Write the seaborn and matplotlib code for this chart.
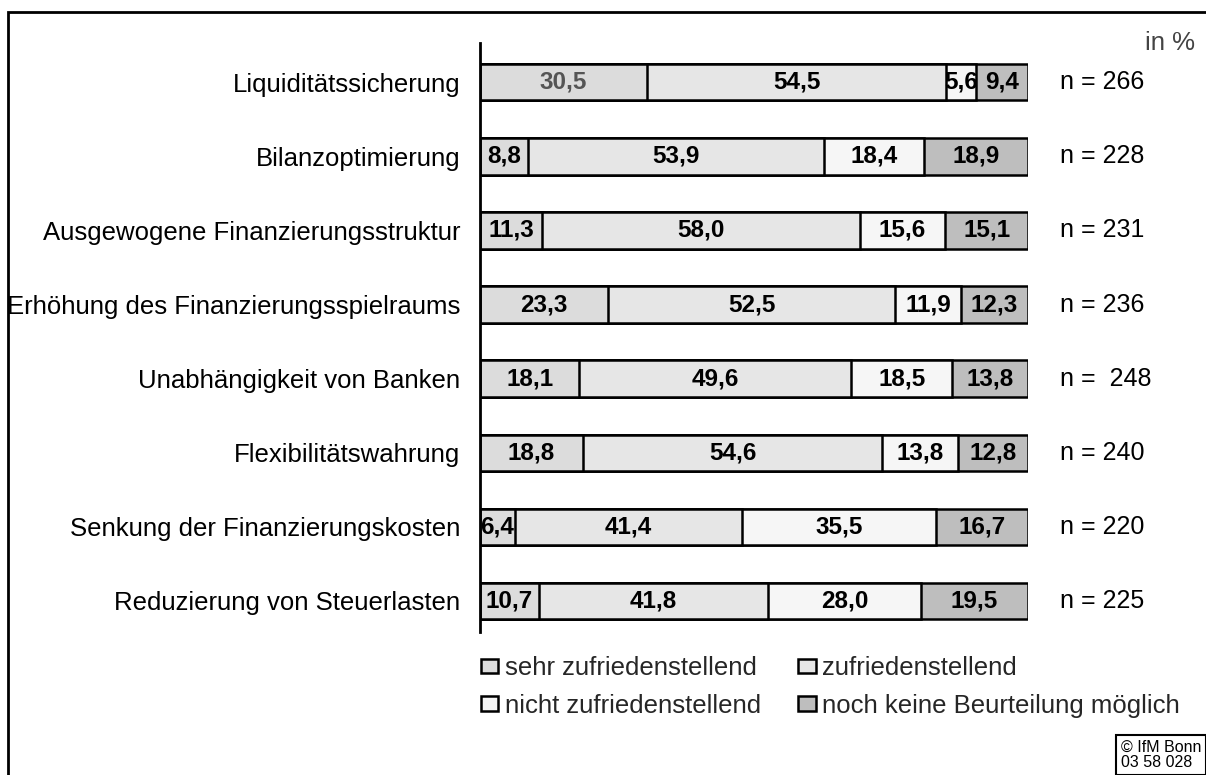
import matplotlib
matplotlib.use("Agg")
import matplotlib.pyplot as plt
from matplotlib.patches import Patch, Rectangle
import seaborn as sns
import pandas as pd
import numpy as np

categories = ["Liquiditätssicherung", "Bilanzoptimierung", "Ausgewogene Finanzierungsstruktur",
              "Erhöhung des Finanzierungsspielraums", "Unabhängigkeit von Banken",
              "Flexibilitätswahrung", "Senkung der Finanzierungskosten", "Reduzierung von Steuerlasten"]
sehr = [30.5, 8.8, 11.3, 23.3, 18.1, 18.8, 6.4, 10.7]
zufrieden = [54.5, 53.9, 58.0, 52.5, 49.6, 54.6, 41.4, 41.8]
nicht = [5.6, 18.4, 15.6, 11.9, 18.5, 13.8, 35.5, 28.0]
keine = [9.4, 18.9, 15.1, 12.3, 13.8, 12.8, 16.7, 19.5]
n_labels = ["n = 266", "n = 228", "n = 231", "n = 236", "n =  248", "n = 240", "n = 220", "n = 225"]
series_names = ["sehr zufriedenstellend", "zufriedenstellend", "nicht zufriedenstellend",
                "noch keine Beurteilung möglich"]
colors = ["#dcdcdc", "#e6e6e6", "#f6f6f6", "#bebebe"]

sns.set_theme(style="white")
plt.rcParams['font.family'] = ['Liberation Sans', 'DejaVu Sans']

fig = plt.figure(figsize=(12.06, 7.75), dpi=100)
W, H = 1206, 775
ax = fig.add_axes([480 / W, 1 - 632 / H, (1028 - 480) / W, (632 - 43) / H])

series = [sehr, zufrieden, nicht, keine]
cum = np.cumsum(np.array(series), axis=0)
df = pd.DataFrame({"cat": categories})
for i in range(3, -1, -1):
    df["v"] = cum[i]
    sns.barplot(data=df, x="v", y="cat", orient="h", color=colors[i], saturation=1,
                width=0.49, edgecolor="black", linewidth=1.8, ax=ax)

ax.set_xlim(0, 100)
ax.set_ylim(7.42, -0.53)
ax.set_xlabel("")
ax.set_ylabel("")
ax.set_xticks([])
for s in ["top", "right", "bottom"]:
    ax.spines[s].set_visible(False)
ax.spines["left"].set_linewidth(2)
ax.spines["left"].set_color("black")
ax.tick_params(axis="y", length=0, pad=14, labelsize=18.5, labelcolor="black")

starts = np.vstack([np.zeros(len(categories)), cum[:-1]])
for i, vals in enumerate(series):
    for j, v in enumerate(vals):
        ax.text(starts[i][j] + v / 2, j, f"{v:.1f}".replace(".", ","), ha="center", va="center",
                fontsize=17.5, fontweight="bold",
                color="#555555" if (i == 0 and j == 0) else "black")

ytr = ax.get_yaxis_transform()
for j, lab in enumerate(n_labels):
    ax.text(1.058, j, lab, transform=ytr, ha="left", va="center", fontsize=18, color="black")

fig.text(1195 / W, 1 - 43 / H, "in %", ha="right", va="center", fontsize=18.5, color="#444444")

handles = [Patch(facecolor=colors[k], edgecolor="black", linewidth=1.8, label=series_names[k])
           for k in [0, 2, 1, 3]]
fig.legend(handles=handles, loc="upper left", bbox_to_anchor=(481 / W, 1 - 656 / H), ncol=2,
           frameon=False, fontsize=18.5, handlelength=0.68, handleheight=0.5, handletextpad=0.25,
           columnspacing=1.45, labelspacing=0.53, borderaxespad=0, borderpad=0)

fig.text(1121 / W, 1 - 740 / H, "© IfM Bonn\n03 58 028", ha="left", va="top", fontsize=11.5,
         color="black", linespacing=1.0,
         bbox=dict(boxstyle="square,pad=0.3", facecolor="white", edgecolor="black", linewidth=1.5))

fig.patches.append(Rectangle((8 / W, -0.05), 1.1, 1 - 12 / H + 0.05, transform=fig.transFigure,
                             fill=False, edgecolor="black", linewidth=2, zorder=10))

fig.savefig("out.png", dpi=100)
